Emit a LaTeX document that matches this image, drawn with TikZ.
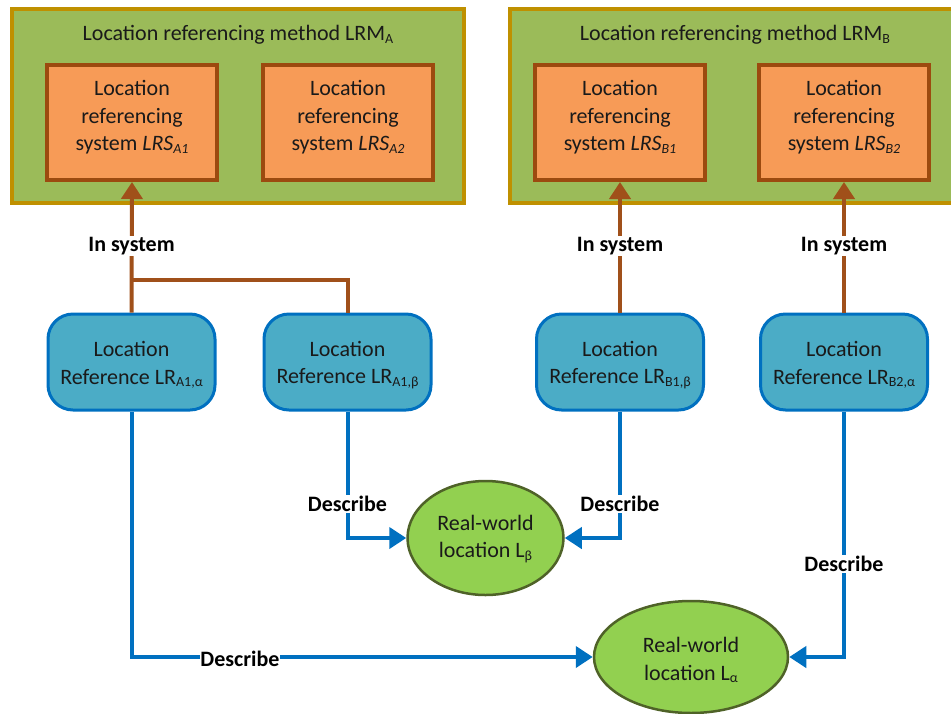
\documentclass[tikz,border=0pt]{standalone}
\usepackage{fontspec}
\setmainfont{Carlito}
\usetikzlibrary{arrows.meta,shapes.geometric}

\definecolor{lrmfill}{HTML}{9BBB59}
\definecolor{lrmline}{HTML}{BF9000}
\definecolor{lrsfill}{HTML}{F79B57}
\definecolor{lrsline}{HTML}{9C4A0F}
\definecolor{reffill}{HTML}{4BACC6}
\definecolor{refline}{HTML}{0070C0}
\definecolor{locfill}{HTML}{92D050}
\definecolor{locline}{HTML}{4F6228}
\definecolor{sysarrow}{HTML}{A0501A}
\definecolor{descarrow}{HTML}{0070C0}
\definecolor{ink}{HTML}{1A1A1A}

\newcommand\lowsub[1]{\raisebox{-0.25ex}{\fontsize{14}{14}\selectfont #1}}

\tikzset{
  basefont/.style={font=\fontsize{22}{27.5}\selectfont, text=ink},
  boxtext/.style={basefont, align=center, inner sep=0pt},
  methodbox/.style={draw=lrmline, fill=lrmfill, line width=4pt},
  systembox/.style={draw=lrsline, fill=lrsfill, line width=4pt,
    minimum width=170pt, minimum height=115pt, inner sep=0pt},
  refbox/.style={draw=refline, fill=reffill, line width=3pt,
    rounded corners=25pt, minimum width=167pt, minimum height=96pt, inner sep=0pt},
  locnode/.style={ellipse, draw=locline, fill=locfill, line width=2.5pt, inner sep=0pt},
  sysline/.style={draw=sysarrow, line width=4pt},
  sysarr/.style={sysline, -{Triangle[length=17pt,width=21pt]}},
  descarr/.style={draw=descarrow, line width=4pt, -{Triangle[length=17pt,width=21pt]}},
  lbl/.style={font=\fontsize{22}{26}\selectfont\bfseries, text=black,
    fill=white, inner sep=1.5pt},
}

\begin{document}
\begin{tikzpicture}[x=1pt, y=-1pt]
\useasboundingbox (0,0) rectangle (951,713);

% method frames
\draw[methodbox] (12,9) rectangle (464,203);
\draw[methodbox] (510,9) rectangle (962,203);
\node[basefont] (titleA) at (238,35) {Location referencing method LRM\lowsub{A}};
\node[basefont] (titleB) at (735,35) {Location referencing method LRM\lowsub{B}};

% referencing systems
\node[systembox] (sA1) at (132,122.5) {};
\node[systembox] (sA2) at (348,122.5) {};
\node[systembox] (sB1) at (620,122.5) {};
\node[systembox] (sB2) at (844,122.5) {};
\node[boxtext] (tA1) at ([yshift=5pt]sA1.center) {Location\\referencing\\system \textit{LRS\lowsub{A1}}};
\node[boxtext] (tA2) at ([yshift=5pt]sA2.center) {Location\\referencing\\system \textit{LRS\lowsub{A2}}};
\node[boxtext] (tB1) at ([yshift=5pt]sB1.center) {Location\\referencing\\system \textit{LRS\lowsub{B1}}};
\node[boxtext] (tB2) at ([yshift=5pt]sB2.center) {Location\\referencing\\system \textit{LRS\lowsub{B2}}};

% location references
\node[refbox] (rA1a) at (131.5,362) {};
\node[refbox] (rA1b) at (347.5,362) {};
\node[refbox] (rB1b) at (620,362) {};
\node[refbox] (rB2a) at (844,362) {};
\node[boxtext] (qA1a) at ([yshift=-3pt]rA1a.center) {Location\\Reference LR\lowsub{A1,α}};
\node[boxtext] (qA1b) at ([yshift=-3pt]rA1b.center) {Location\\Reference LR\lowsub{A1,β}};
\node[boxtext] (qB1b) at ([yshift=-3pt]rB1b.center) {Location\\Reference LR\lowsub{B1,β}};
\node[boxtext] (qB2a) at ([yshift=-3pt]rB2a.center) {Location\\Reference LR\lowsub{B2,α}};

% real-world locations
\node[locnode, minimum width=156pt, minimum height=114pt] (Lb) at (485.5,538) {};
\node[locnode, minimum width=194pt, minimum height=112pt] (La) at (691,657) {};
\node[boxtext] (tLb) at ([yshift=-1pt]Lb.center) {Real-world\\location L\lowsub{β}};
\node[boxtext] (tLa) at ([yshift=-3pt]La.center) {Real-world\\location L\lowsub{α}};

% "in system" links
\coordinate (jA) at (131.5,280);
\draw[sysline] (rA1b.north) |- (jA);
\draw[sysarr] (rA1a.north) -- (sA1.south);
\draw[sysarr] (rB1b.north) -- (sB1.south);
\draw[sysarr] (rB2a.north) -- (sB2.south);
\node[lbl] (isA) at (131.5,246) {In system};
\node[lbl] (isB1) at (620,246) {In system};
\node[lbl] (isB2) at (844,246) {In system};

% "describe" links
\draw[descarr] (rA1b.south) |- (Lb.west);
\draw[descarr] (rB1b.south) |- (Lb.east);
\draw[descarr] (rA1a.south) |- (La.west);
\draw[descarr] (rB2a.south) |- (La.east);
\node[lbl] (dA1b) at (347.5,504) {Describe};
\node[lbl] (dB1b) at (620,504) {Describe};
\node[lbl, inner sep=0.5pt] (dA1a) at (240,659) {Describe};
\node[lbl] (dB2a) at (844,564) {Describe};
\end{tikzpicture}
\end{document}
